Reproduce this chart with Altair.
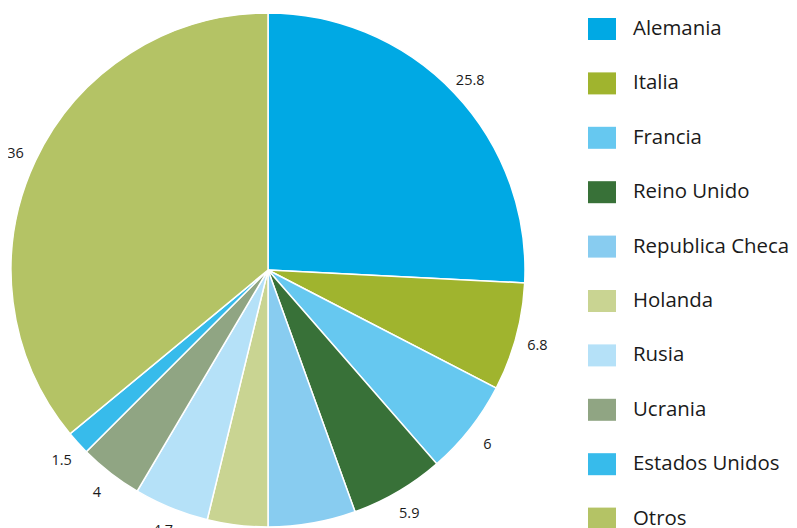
import altair as alt
import pandas as pd

countries = ["Alemania", "Italia", "Francia", "Reino Unido", "Republica Checa",
             "Holanda", "Rusia", "Ucrania", "Estados Unidos", "Otros"]
values = [25.8, 6.8, 6.0, 5.9, 5.5, 3.8, 4.7, 4.0, 1.5, 36.0]
labels = ["25.8", "6.8", "6", "5.9", "5.5", "3.8", "4.7", "4", "1.5", "36"]
colors = ["#00a9e4", "#a0b42e", "#66c8f0", "#387138", "#88ccf0",
          "#c9d492", "#b5e1f8", "#90a583", "#37bbeb", "#b4c365"]

df = pd.DataFrame({"pais": countries, "valor": values, "etiqueta": labels,
                   "orden": list(range(len(countries)))})

rect_path = "M-1,-0.786H1V0.786H-1Z"

base = alt.Chart(df).encode(
    theta=alt.Theta("valor:Q", stack=True),
    order=alt.Order("orden:Q"),
    x=alt.value(260),
    y=alt.value(262),
)

pie = base.mark_arc(outerRadius=257, stroke="white", strokeWidth=1.5).encode(
    color=alt.Color(
        "pais:N",
        scale=alt.Scale(domain=countries, range=colors),
        sort=countries,
        legend=alt.Legend(
            title=None,
            orient="none",
            legendX=580,
            legendY=7,
            symbolType=rect_path,
            symbolSize=784,
            symbolStrokeWidth=0,
            labelFontSize=20.4,
            labelFont="Open Sans",
            labelColor="#1a1a1a",
            labelOffset=17,
            rowPadding=28.4,
            labelLimit=300,
        ),
    )
)

text = base.mark_text(radius=279, dy=3, fontSize=14.5, font="Open Sans", color="#1a1a1a").encode(
    text="etiqueta:N"
)

chart = (pie + text).properties(
    width=781, height=520, padding=0,
    autosize=alt.AutoSizeParams(type="none"),
).configure_view(stroke=None)

chart.save("out.html", embed_options={"renderer": "svg", "actions": False})
